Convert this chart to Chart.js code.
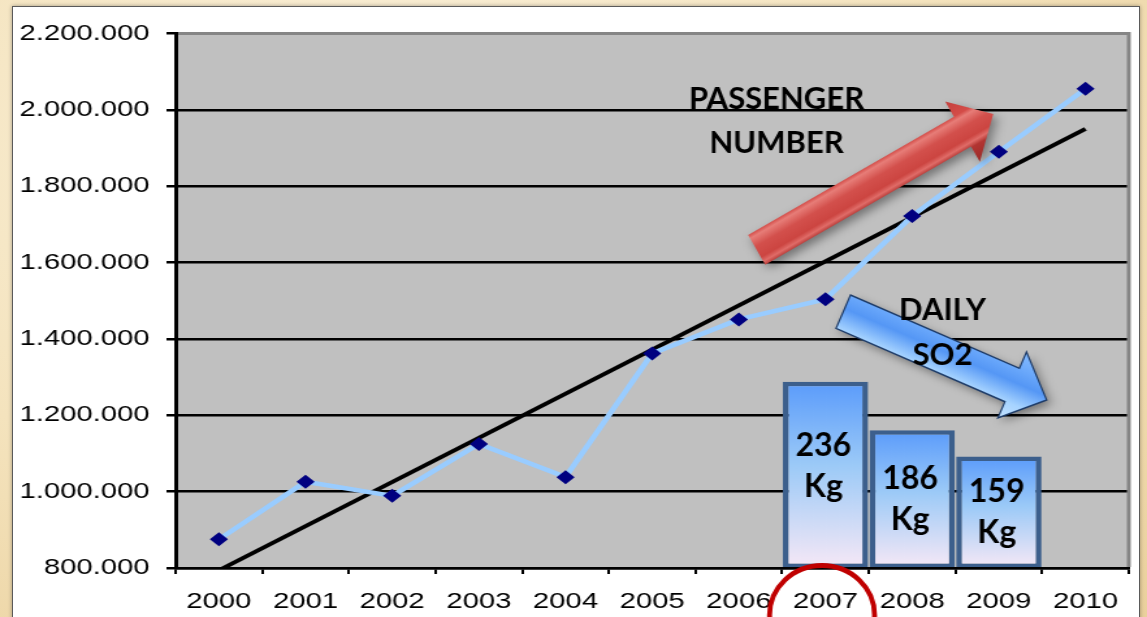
<!DOCTYPE html>
<html>
<head>
<meta charset="utf-8">
<script src="https://cdn.jsdelivr.net/npm/chart.js@4.4.1/dist/chart.umd.min.js"></script>
<style>
  html, body { margin: 0; padding: 0; }
  body {
    width: 1147px; height: 617px; overflow: hidden; position: relative;
    background: radial-gradient(ellipse at 35% 25%, #fbf2de 0%, #f4e3bd 55%, #ead09c 100%);
  }
  #sheet {
    position: absolute; left: 12px; top: 6px; width: 1126px; height: 700px;
    background: #fff; border: 1px solid #5a5a5a; box-shadow: 0 0 4px rgba(0,0,0,.35);
  }
  /* the original chart picture was stretched sideways, so the canvas is too */
  #chart { position: absolute; left: 0; top: 0; transform: scaleX(1.30045); transform-origin: 0 0; }
</style>
</head>
<body>
<div id="sheet"></div>
<canvas id="chart" width="882" height="617"></canvas>
<script>
const years = ["2000", "2001", "2002", "2003", "2004", "2005", "2006", "2007", "2008", "2009", "2010"];
const passengers = [875000, 1026000, 989000, 1125000, 1038000, 1362000, 1451000, 1504000, 1722000, 1890000, 2055000];
// trend line end points
const passengerTrend = [794000, null, null, null, null, null, null, null, null, null, 1950000];
const so2Daily = [null, null, null, null, null, null, null, 236, 186, 159, null];
const so2Unit = "Kg";
const yTickValues = [800000, 1000000, 1200000, 1400000, 1600000, 1800000, 2000000, 2200000];
const passengerNote = ["PASSENGER", "NUMBER"];
const so2Note = ["DAILY", "SO2"];

const S = 1147 / 882;
const SO2_MIN = 44;
const tickFont = { family: "'Liberation Sans', Arial, sans-serif", size: 22.5 };
const noteFont = "bold 31px Lato, 'Open Sans', sans-serif";
const barFont = "bold 32px Lato, 'Open Sans', sans-serif";

const fmt = (v) => String(v).replace(/\B(?=(\d{3})+(?!\d))/g, ".");

const plotBack = {
  id: "plotBack",
  beforeDraw(chart) {
    const { ctx, chartArea: a } = chart;
    ctx.save();
    ctx.fillStyle = "#c0c0c0";
    ctx.fillRect(a.left, a.top, a.right - a.left, a.bottom - a.top);
    ctx.restore();
  },
  beforeDatasetsDraw(chart) {
    const { ctx, chartArea: a } = chart;
    ctx.save();
    ctx.strokeStyle = "#858585";
    ctx.lineWidth = 3;
    ctx.beginPath();
    ctx.moveTo(a.left + 2, a.top);
    ctx.lineTo(a.right, a.top);
    ctx.lineTo(a.right, a.bottom - 1);
    ctx.stroke();
    ctx.restore();
  }
};

function arrow(ctx, a, b, shaft, head, headLen, stops, stroke) {
  const dx = b.x - a.x, dy = b.y - a.y, len = Math.hypot(dx, dy);
  const ux = dx / len, uy = dy / len, nx = -uy, ny = ux;
  const bx = b.x - ux * headLen, by = b.y - uy * headLen;
  const pts = [
    [a.x + nx * shaft / 2, a.y + ny * shaft / 2],
    [bx + nx * shaft / 2, by + ny * shaft / 2],
    [bx + nx * head / 2, by + ny * head / 2],
    [b.x, b.y],
    [bx - nx * head / 2, by - ny * head / 2],
    [bx - nx * shaft / 2, by - ny * shaft / 2],
    [a.x - nx * shaft / 2, a.y - ny * shaft / 2]
  ];
  const g = ctx.createLinearGradient(a.x - nx * head / 2, a.y - ny * head / 2, a.x + nx * head / 2, a.y + ny * head / 2);
  stops.forEach(([o, c]) => g.addColorStop(o, c));
  ctx.save();
  ctx.beginPath();
  pts.forEach(([px, py], i) => (i ? ctx.lineTo(px, py) : ctx.moveTo(px, py)));
  ctx.closePath();
  ctx.shadowColor = "rgba(0,0,0,0.4)";
  ctx.shadowBlur = 8;
  ctx.shadowOffsetX = 3;
  ctx.shadowOffsetY = 4;
  ctx.fillStyle = g;
  ctx.fill();
  ctx.shadowColor = "transparent";
  if (stroke) {
    ctx.strokeStyle = stroke;
    ctx.lineWidth = 1.5;
    ctx.stroke();
  }
  ctx.restore();
}

function lines(ctx, list, x, y, gap) {
  list.forEach((t, i) => ctx.fillText(t, x, y + (i - (list.length - 1) / 2) * gap));
}

const callouts = {
  id: "callouts",
  afterDraw(chart) {
    const { ctx, chartArea, scales: { x, y } } = chart;
    // page coordinates (undo the sideways stretch so shapes and text keep their proportions)
    const P = (i, v) => ({ x: x.getPixelForValue(i) * S, y: y.getPixelForValue(v) });
    ctx.save();
    ctx.scale(1 / S, 1);

    arrow(ctx, P(6.206, 1633000), P(8.936, 1989000), 34.3, 69.5, 35.5, [
      [0, "#c4403d"], [0.25, "#d44c48"], [0.31, "#e77d78"], [0.45, "#d3504c"],
      [0.62, "#cc4541"], [0.69, "#e06c68"], [0.76, "#b23532"], [1, "#9a2a28"]
    ]);
    arrow(ctx, P(7.205, 1471300), P(9.552, 1240000), 36.4, 72, 37.6, [
      [0, "#86bcff"], [0.26, "#6aa8fb"], [0.45, "#5597f5"], [0.74, "#a6d3ff"], [1, "#c4e2ff"]
    ], "#1d3b68");

    ctx.fillStyle = "#000";
    ctx.textAlign = "center";
    ctx.textBaseline = "middle";
    ctx.font = noteFont;
    const pn = P(6.435, 1971000);
    lines(ctx, passengerNote, pn.x, pn.y, 44);
    const sn = P(8.35, 1417000);
    lines(ctx, so2Note, sn.x, sn.y, 45);

    ctx.font = barFont;
    const meta = chart.getDatasetMeta(2);
    meta.data.forEach((el, i) => {
      if (so2Daily[i] == null) return;
      const lift = i === 7 ? 9 : 0;
      lines(ctx, [String(so2Daily[i]), so2Unit], el.x * S - 2, (el.y + el.base) / 2 - lift, 41);
    });

    const c = { x: x.getPixelForValue(6.96) * S, y: chartArea.bottom + 47 };
    ctx.strokeStyle = "#c00000";
    ctx.lineWidth = 5;
    ctx.beginPath();
    ctx.ellipse(c.x, c.y, 52.5, 49.5, 0, 0, Math.PI * 2);
    ctx.stroke();
    ctx.restore();
  }
};

new Chart(document.getElementById("chart"), {
  type: "line",
  data: {
    labels: years,
    datasets: [
      {
        label: "Passengers",
        data: passengers,
        borderColor: "#99ccff",
        borderWidth: 4.5,
        tension: 0,
        pointStyle: "rectRot",
        pointRadius: 7,
        pointBackgroundColor: "#000080",
        pointBorderWidth: 0,
        order: 0
      },
      {
        label: "Trend",
        data: passengerTrend,
        spanGaps: true,
        borderColor: "#000",
        borderWidth: 3.8,
        pointRadius: 0,
        clip: 0,
        order: 1
      },
      {
        type: "bar",
        label: "Daily SO2",
        data: so2Daily,
        yAxisID: "y2",
        base: SO2_MIN,
        barPercentage: 1,
        categoryPercentage: 0.985,
        borderWidth: 4.5,
        borderSkipped: false,
        borderColor: "#3c5f8c",
        backgroundColor: (c) => {
          const { chart } = c;
          if (!chart.chartArea || c.raw == null) return "#8cbcf8";
          const top = chart.scales.y2.getPixelForValue(c.raw);
          const g = chart.ctx.createLinearGradient(0, top, 0, chart.chartArea.bottom);
          g.addColorStop(0, "#5a9bfb");
          g.addColorStop(0.45, "#9ccaf7");
          g.addColorStop(1, "#f6e8f6");
          return g;
        },
        order: 2
      }
    ]
  },
  options: {
    responsive: false,
    animation: false,
    events: [],
    layout: { padding: { top: 33.5, right: 14, bottom: 0, left: 0 } },
    plugins: { legend: { display: false }, tooltip: { enabled: false } },
    scales: {
      x: {
        offset: true,
        grid: { offset: true, drawOnChartArea: false, drawTicks: true, tickLength: 6, color: "#000", lineWidth: 2 },
        border: { display: true, color: "#000", width: 2.5, z: 1 },
        ticks: { font: tickFont, color: "#000", padding: 14, maxRotation: 0, autoSkip: false },
        afterFit: (s) => { s.height = 49; }
      },
      y: {
        min: 800000,
        max: 2200000,
        afterBuildTicks: (s) => { s.ticks = yTickValues.map((v) => ({ value: v })); },
        grid: { color: "#000", lineWidth: 2.5, tickLength: 7 },
        border: { display: true, color: "#000", width: 3 },
        ticks: { font: tickFont, color: "#000", padding: 13, callback: (v) => fmt(v) },
        afterFit: (s) => { s.width = 135; }
      },
      y2: { display: false, min: SO2_MIN, max: 595 }
    }
  },
  plugins: [plotBack, callouts]
});
</script>
</body>
</html>
